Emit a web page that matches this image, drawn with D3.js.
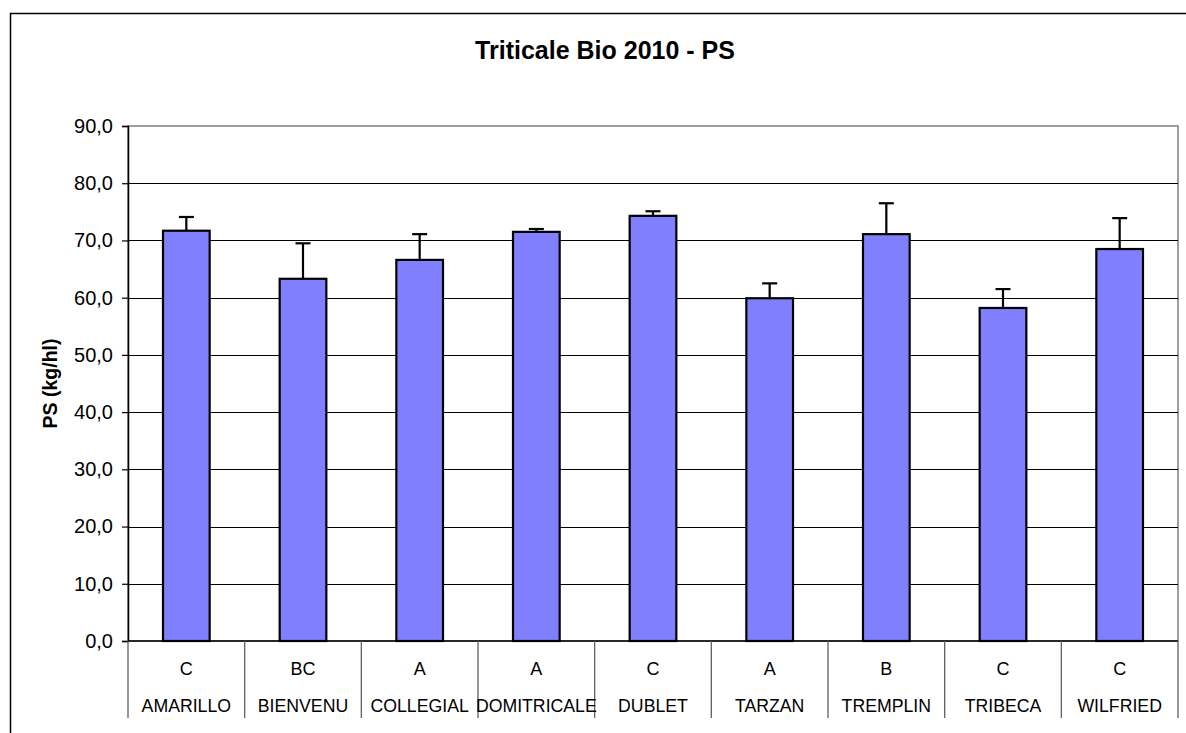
<!DOCTYPE html>
<html><head><meta charset="utf-8">
<script src="https://cdn.jsdelivr.net/npm/d3@7"></script>
<style>
html,body{margin:0;padding:0;background:#fff;}
svg{display:block;font-family:"Liberation Sans",Arial,sans-serif;}
</style></head>
<body>
<svg id="chart" width="1186" height="733"></svg>
<script>
const categories = ["AMARILLO","BIENVENU","COLLEGIAL","DOMITRICALE","DUBLET","TARZAN","TREMPLIN","TRIBECA","WILFRIED"];
const groups = ["C","BC","A","A","C","A","B","C","C"];
const values = [71.7, 63.3, 66.6, 71.5, 74.3, 59.9, 71.1, 58.2, 68.5];
const errors = [2.4, 6.2, 4.5, 0.5, 0.8, 2.6, 5.4, 3.3, 5.4];
const yTicks = [0,10,20,30,40,50,60,70,80,90];
const title = "Triticale Bio 2010 - PS";
const yTitle = "PS (kg/hl)";

const svg = d3.select("#chart");
const L = 128, R = 1178, T = 126, B = 641;

// outer chart border
svg.append("rect").attr("x",10.5).attr("y",13.5).attr("width",1200).attr("height",800)
  .attr("fill","#fff").attr("stroke","#000").attr("stroke-width",1.5);

const x = d3.scaleBand().domain(categories).range([L,R]).paddingInner(0.6).paddingOuter(0.3);
const y = d3.scaleLinear().domain([0,90]).range([B,T]);

// plot area border (gray)
svg.append("rect").attr("x",L).attr("y",T).attr("width",R-L).attr("height",B-T)
  .attr("fill","none").attr("stroke","#808080").attr("stroke-width",1.5);

// gridlines
svg.append("g").selectAll("line").data(yTicks.filter(d=>d>0 && d<90)).join("line")
  .attr("x1",L).attr("x2",R).attr("y1",d=>Math.round(y(d))+0.5).attr("y2",d=>Math.round(y(d))+0.5)
  .attr("stroke","#000").attr("stroke-width",1);

// y axis
const yAxis = d3.axisLeft(y).tickValues(yTicks).tickSize(6).tickPadding(9)
  .tickFormat(d=>d3.format(".1f")(d).replace(".",","));
const gy = svg.append("g").attr("transform",`translate(${L},0)`).call(yAxis);
gy.select(".domain").attr("stroke","#000").attr("stroke-width",1.5);
gy.selectAll(".tick line").attr("stroke","#000").attr("stroke-width",1.2);
gy.selectAll(".tick text").attr("font-size","20px").attr("fill","#000")
  .attr("font-family","'Liberation Sans',Arial,sans-serif");

// bars
svg.append("g").selectAll("rect").data(categories).join("rect")
  .attr("x",d=>x(d)).attr("width",x.bandwidth())
  .attr("y",(d,i)=>y(values[i])).attr("height",(d,i)=>B-y(values[i]))
  .attr("fill","#8080FF").attr("stroke","#000").attr("stroke-width",2.2);

// error bars (plus direction)
const eb = svg.append("g");
categories.forEach((c,i)=>{
  const cx = x(c)+x.bandwidth()/2;
  eb.append("line").attr("x1",cx).attr("x2",cx).attr("y1",y(values[i])).attr("y2",y(values[i]+errors[i]))
    .attr("stroke","#000").attr("stroke-width",2.2);
  eb.append("line").attr("x1",cx-7.5).attr("x2",cx+7.5).attr("y1",y(values[i]+errors[i])).attr("y2",y(values[i]+errors[i]))
    .attr("stroke","#000").attr("stroke-width",2.2);
});

// x axis line
svg.append("line").attr("x1",L).attr("x2",R).attr("y1",B).attr("y2",B).attr("stroke","#000").attr("stroke-width",1.5);

// multi-level category separators
const step = x.step();
const bounds = d3.range(categories.length+1).map(i=>L+i*step);
svg.append("g").selectAll("line").data(bounds).join("line")
  .attr("x1",d=>d).attr("x2",d=>d).attr("y1",B).attr("y2",718)
  .attr("stroke","#606060").attr("stroke-width",1.3);

// group letters and names
svg.append("g").selectAll("text").data(categories).join("text")
  .attr("x",d=>x(d)+x.bandwidth()/2).attr("y",674.5).attr("text-anchor","middle")
  .attr("font-size","18px").attr("fill","#000").text((d,i)=>groups[i]);
svg.append("g").selectAll("text").data(categories).join("text")
  .attr("x",d=>x(d)+x.bandwidth()/2).attr("y",711.5).attr("text-anchor","middle")
  .attr("font-size","17.7px").attr("fill","#000").text(d=>d);

// title
svg.append("text").attr("x",605).attr("y",59).attr("text-anchor","middle")
  .attr("font-size","25px").attr("font-weight","bold").attr("fill","#000").text(title);

// y title
svg.append("text").attr("transform",`translate(57,${(T+B)/2}) rotate(-90)`).attr("text-anchor","middle")
  .attr("font-size","19.5px").attr("font-weight","bold").attr("fill","#000").text(yTitle);
</script>
</body></html>
